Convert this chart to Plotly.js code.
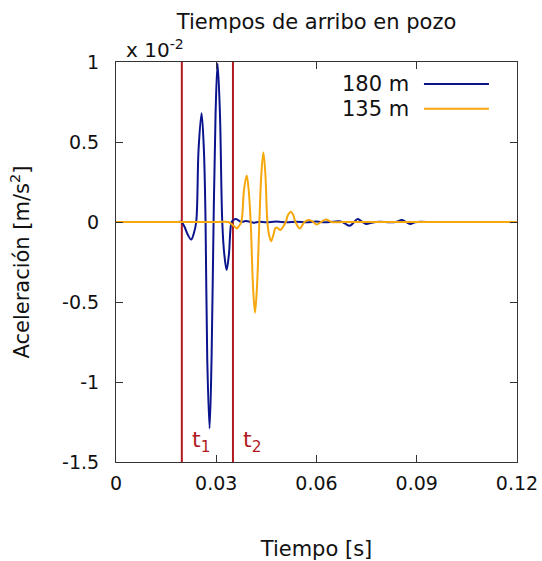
<!DOCTYPE html>
<html>
<head>
<meta charset="utf-8">
<script src="https://cdn.plot.ly/plotly-3.0.1.min.js"></script>
<style>html,body{margin:0;padding:0;background:#fff;}#chart{width:542px;height:561px;}</style>
</head>
<body>
<div id="chart"></div>
<script>
// ---- data (acceleration in units of 1e-2 m/s^2) ----
var seriesNames = ['180 m', '135 m'];
var seriesColors = ['#0a148c', '#f6a70c'];

var t180 = [0, 0.0100, 0.0185, 0.0196, 0.0205, 0.0215, 0.0225, 0.0233, 0.0240, 0.0247, 0.0256, 0.0263,
            0.0268, 0.0273, 0.0280, 0.0286, 0.0292, 0.0298, 0.0304, 0.0311, 0.0318, 0.0324, 0.0331, 0.0338,
            0.0346, 0.0352, 0.0360, 0.0368, 0.0376, 0.0388, 0.0400, 0.0412, 0.0430, 0.0450, 0.0480, 0.0510,
            0.0540, 0.0570, 0.0600, 0.0625, 0.0650, 0.0672, 0.0686, 0.0699, 0.0711, 0.0722, 0.0735, 0.0749,
            0.0765, 0.0790, 0.0820, 0.0840, 0.0855, 0.0867, 0.0880, 0.0895, 0.0910, 0.0930];
var a180 = [0, 0, 0, 0, -0.03, -0.08, -0.11, -0.07, 0, 0.45, 0.68, 0.45,
            0, -0.85, -1.29, -0.85, 0, 0.68, 0.99, 0.68, 0, -0.20, -0.30, -0.20,
            0, 0.014, 0.018, 0.008, 0.001, 0.006, 0.002, -0.004, 0.001, -0.002, 0.003, -0.002,
            0.002, -0.002, 0.003, -0.002, 0.002, 0.004, -0.010, -0.024, -0.005, 0.018, 0.004, -0.012,
            -0.004, 0.001, -0.002, 0.002, 0.012, 0.001, -0.013, -0.002, 0.002, 0];

var t135 = [0, 0.0150, 0.0300, 0.0336, 0.0350, 0.0362, 0.0368, 0.0375, 0.0383, 0.0391, 0.0397, 0.0403,
            0.0410, 0.0416, 0.0422, 0.0429, 0.0435, 0.0441, 0.0447, 0.0453, 0.0458, 0.0464, 0.0471, 0.0478,
            0.0485, 0.0492, 0.0500, 0.0508, 0.0515, 0.0523, 0.0530, 0.0537, 0.0550, 0.0564, 0.0578, 0.0590,
            0.0600, 0.0614, 0.0628, 0.0645, 0.0680, 0.0800, 0.1000, 0.1200];
var a135 = [0, 0, 0, 0, -0.02, -0.04, -0.025, 0, 0.20, 0.29, 0.20, 0,
            -0.40, -0.567, -0.40, 0, 0.30, 0.435, 0.30, 0, -0.08, -0.12, -0.08, -0.035,
            -0.04, -0.05, -0.03, 0, 0.045, 0.064, 0.045, 0, -0.04, 0, 0.012, 0,
            -0.015, 0, 0.015, 0, 0, 0, 0, 0];

var arrivalTimes = [0.0197, 0.0350];
var arrivalLabels = ['t<sub>1</sub>', 't<sub>2</sub>'];

var xTickVals = [0, 0.03, 0.06, 0.09, 0.12];
var xTickText = ['0', '0.03', '0.06', '0.09', '0.12'];
var yTickVals = [-1.5, -1, -0.5, 0, 0.5, 1];
var yTickText = ['-1.5', '-1', '-0.5', '0', '0.5', '1'];

var xRange = [0, 0.12];
var yRange = [-1.5, 1];

// ---- styles ----
var FONT = 'DejaVu Sans, sans-serif';
var RED = '#b01a1e';
var AXIS = '#333333';

var traces = [
  {x: t180, y: a180, type: 'scatter', mode: 'lines', name: seriesNames[0],
   line: {color: seriesColors[0], width: 2, shape: 'spline', smoothing: 1}, showlegend: false, hoverinfo: 'skip'},
  {x: t135, y: a135, type: 'scatter', mode: 'lines', name: seriesNames[1],
   line: {color: seriesColors[1], width: 2, shape: 'spline', smoothing: 1}, showlegend: false, hoverinfo: 'skip'}
];

var shapes = [];
var annotations = [];
arrivalTimes.forEach(function (t, i) {
  shapes.push({type: 'line', xref: 'x', yref: 'paper', x0: t, x1: t, y0: 0, y1: 1,
               line: {color: RED, width: 2}, layer: 'below'});
  annotations.push({xref: 'x', yref: 'y', x: t, y: -1.37, xanchor: 'left', yanchor: 'middle', xshift: 8,
                    text: arrivalLabels[i], showarrow: false, font: {family: FONT, size: 22, color: RED}});
});

// gnuplot-style legend (text then line sample)
var legendY = [0.945, 0.883];
seriesNames.forEach(function (n, i) {
  annotations.push({xref: 'paper', yref: 'paper', x: 0.735, y: legendY[i], xanchor: 'right', yanchor: 'middle',
                    text: n, showarrow: false, font: {family: FONT, size: 21, color: '#111'}});
  shapes.push({type: 'line', xref: 'paper', yref: 'paper', x0: 0.768, x1: 0.93, y0: legendY[i], y1: legendY[i],
               line: {color: seriesColors[i], width: 2}});
});

// exponent multiplier
annotations.push({xref: 'paper', yref: 'paper', x: 0.02, y: 1.0, xanchor: 'left', yanchor: 'bottom', yshift: -2,
                  text: 'x 10<sup>-2</sup>', showarrow: false, font: {family: FONT, size: 20, color: '#111'}});

var layout = {
  width: 542, height: 561,
  margin: {l: 116, r: 25, t: 62, b: 99, pad: 0},
  paper_bgcolor: '#fff', plot_bgcolor: '#fff',
  font: {family: FONT, color: '#111', size: 19},
  title: {text: 'Tiempos de arribo en pozo', font: {family: FONT, size: 21, color: '#111'},
          xref: 'paper', x: 0.5, xanchor: 'center', yref: 'container', y: 0.962, yanchor: 'middle'},
  showlegend: false,
  xaxis: {range: xRange, tickvals: xTickVals, ticktext: xTickText, ticks: 'inside', ticklen: 7, tickwidth: 1,
          tickcolor: AXIS, showline: true, linecolor: AXIS, linewidth: 1, mirror: 'ticks',
          showgrid: false, zeroline: false, tickfont: {size: 19}, ticklabelstandoff: 4,
          title: {text: 'Tiempo [s]', font: {size: 21}, standoff: 50}},
  yaxis: {range: yRange, tickvals: yTickVals, ticktext: yTickText, ticks: 'inside', ticklen: 7, tickwidth: 1,
          tickcolor: AXIS, showline: true, linecolor: AXIS, linewidth: 1, mirror: 'ticks',
          showgrid: false, zeroline: false, tickfont: {size: 19}, ticklabelstandoff: 12,
          title: {text: 'Aceleración [m/s<sup>2</sup>]', font: {size: 21}, standoff: 26}},
  shapes: shapes,
  annotations: annotations
};

Plotly.newPlot('chart', traces, layout, {staticPlot: true, displayModeBar: false});
</script>
</body>
</html>
